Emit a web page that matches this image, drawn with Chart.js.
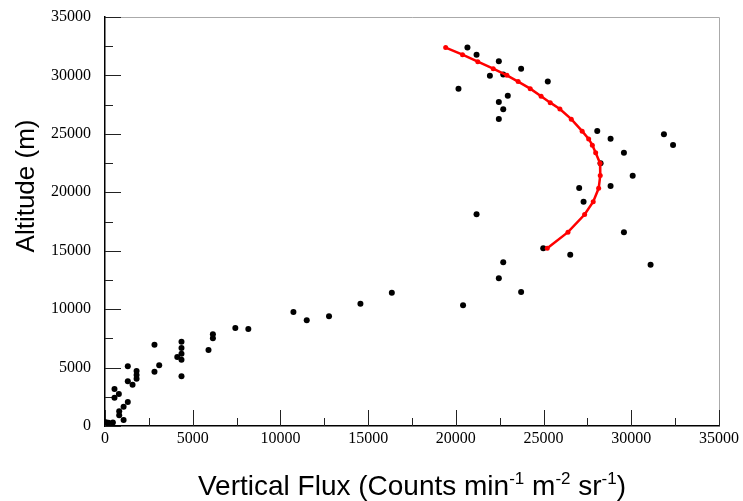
<!DOCTYPE html>
<html>
<head>
<meta charset="utf-8">
<script src="https://cdn.jsdelivr.net/npm/chart.js@4.4.1/dist/chart.umd.min.js"></script>
<style>
  html, body { margin: 0; padding: 0; background: #fff; }
  #wrap { width: 743px; height: 501px; position: relative; }
</style>
</head>
<body>
<div id="wrap"><canvas id="chart_flux"></canvas></div>
<script>
// measured flux vs altitude (black dots)
var fluxObs = [50, 200, 450, 540, 790, 540, 1300, 1300, 1570, 1800, 1800, 1800,
  1300, 1060, 810, 810, 1060, 2820, 2820, 3090, 4120, 4360, 4360, 4360, 4360, 4360,
  5900, 6150, 6150, 7430, 8170, 10740, 11500, 12770, 14560, 16350,
  20410, 21180, 22450, 22700, 23720, 24980, 26520, 29580, 31100,
  27030, 27280, 28820, 30080, 28250, 29580, 28820, 28060, 31860, 32380,
  20660, 21180, 22450, 23720, 21940, 22700, 25240, 20150, 22960, 22450, 22700, 22450];
var altObs = [320, 280, 310, 3170, 2740, 2420, 5110, 3830, 3540, 4710, 4360, 4050,
  2050, 1650, 1260, 920, 510, 6960, 4650, 5190, 5900, 7210, 6670, 6190, 5670, 4250,
  6500, 7850, 7500, 8390, 8300, 9760, 9040, 9390, 10470, 11410,
  10330, 18120, 12640, 14010, 11470, 15210, 14660, 16580, 13800,
  20370, 19190, 20540, 21420, 22480, 23390, 24590, 25240, 24960, 24050,
  32400, 31780, 31210, 30580, 29980, 30090, 29470, 28870, 28260, 27730, 27100, 26270];

// fitted curve (red)
var fluxFit = [19420, 20380, 21250, 22130, 22910, 23550, 24240, 24860, 25380, 25930,
  26580, 27200, 27570, 27780, 27970, 28220, 28230, 28140, 27830, 27340, 26390, 25210];
var altFit = [32380, 31780, 31180, 30580, 30010, 29470, 28870, 28210, 27670, 27130,
  26260, 25230, 24570, 24030, 23390, 22480, 21430, 20340, 19200, 18100, 16590, 15210];

var xTicks = [0, 5000, 10000, 15000, 20000, 25000, 30000, 35000];
var yTicks = [0, 5000, 10000, 15000, 20000, 25000, 30000, 35000];
var minorStep = 2500;

function toPoints(xs, ys) {
  return xs.map(function (v, i) { return { x: v, y: ys[i] }; });
}
function plain(v) { return String(v); }

var chart_flux = new Chart(document.getElementById('chart_flux'), {
  type: 'scatter',
  data: {
    datasets: [
      {
        label: 'fit',
        data: toPoints(fluxFit, altFit),
        showLine: true,
        borderColor: '#ff0000',
        backgroundColor: '#ff0000',
        borderWidth: 2.5,
        pointRadius: 2.5,
        pointBorderWidth: 0
      },
      {
        label: 'measured',
        data: toPoints(fluxObs, altObs),
        borderColor: '#000',
        backgroundColor: '#000',
        pointRadius: 3,
        pointBorderWidth: 0
      }
    ]
  },
  options: {
    animation: false,
    responsive: true,
    maintainAspectRatio: false,
    layout: { padding: { top: 17, right: 24, left: 0, bottom: 0 } },
    plugins: {
      legend: { display: false },
      tooltip: { enabled: false },
      title: { display: false }
    },
    scales: {
      x: {
        type: 'linear',
        min: 0,
        max: 35000,
        afterBuildTicks: function (s) { s.ticks = xTicks.map(function (v) { return { value: v }; }); },
        ticks: {
          font: { family: 'Liberation Serif', size: 16 },
          color: '#000',
          padding: 3,
          maxRotation: 0,
          callback: plain
        },
        grid: { display: false, drawTicks: false },
        border: { display: true, color: '#000', width: 1.5 },
        afterFit: function (s) { s.height = 75; }
      },
      y: {
        type: 'linear',
        min: 0,
        max: 35000,
        afterBuildTicks: function (s) { s.ticks = yTicks.map(function (v) { return { value: v }; }); },
        ticks: {
          font: { family: 'Liberation Serif', size: 16 },
          color: '#000',
          padding: 14,
          callback: plain
        },
        grid: { display: false, drawTicks: false },
        border: { display: true, color: '#000', width: 1.5 },
        afterFit: function (s) { s.width = 105; s.paddingTop = 0; s.paddingBottom = 0; }
      }
    }
  },
  plugins: [{
    id: 'whiteBg',
    beforeDraw: function (chart) {
      var ctx = chart.ctx;
      ctx.save();
      ctx.fillStyle = 'white';
      ctx.fillRect(0, 0, chart.width, chart.height);
      ctx.restore();
    }
  }, {
    id: 'frameAndTitles',
    beforeDatasetsDraw: function (chart) {
      var ctx = chart.ctx, a = chart.chartArea;
      var sx = chart.scales.x, sy = chart.scales.y;
      ctx.save();
      // light frame on top and right
      ctx.strokeStyle = '#aaa';
      ctx.lineWidth = 1;
      ctx.beginPath();
      ctx.moveTo(a.left, a.top + 0.5);
      ctx.lineTo(a.right + 0.5, a.top + 0.5);
      ctx.lineTo(a.right + 0.5, a.bottom);
      ctx.stroke();
      // inward ticks
      ctx.strokeStyle = '#222';
      ctx.beginPath();
      for (var v = 0; v <= 35000; v += minorStep) {
        var len = v % 5000 === 0 ? 16 : 8;
        var px = Math.round(sx.getPixelForValue(v)) + 0.5;
        ctx.moveTo(px, a.bottom);
        ctx.lineTo(px, a.bottom - len);
        var py = Math.round(sy.getPixelForValue(v)) + 0.5;
        ctx.moveTo(a.left, py);
        ctx.lineTo(a.left + len, py);
      }
      ctx.stroke();
      ctx.restore();
    },
    afterDraw: function (chart) {
      var ctx = chart.ctx, a = chart.chartArea;
      ctx.save();
      ctx.fillStyle = '#000';
      // x title with superscripts
      var big = '28px "Liberation Sans"', small = '17px "Liberation Sans"';
      var parts = [
        ['Vertical Flux (Counts min', big, 0], ['-1', small, -11],
        [' m', big, 0], ['-2', small, -11],
        [' sr', big, 0], ['-1', small, -11],
        [')', big, 0]
      ];
      var total = 0;
      parts.forEach(function (p) { ctx.font = p[1]; total += ctx.measureText(p[0]).width; });
      var x = (a.left + a.right) / 2 - total / 2, base = 495;
      ctx.textBaseline = 'alphabetic';
      ctx.textAlign = 'left';
      parts.forEach(function (p) {
        ctx.font = p[1];
        ctx.fillText(p[0], x, base + p[2]);
        x += ctx.measureText(p[0]).width;
      });
      // y title
      ctx.font = '26px "Liberation Sans"';
      ctx.translate(34, 186);
      ctx.rotate(-Math.PI / 2);
      ctx.textAlign = 'center';
      ctx.fillText('Altitude (m)', 0, 0);
      ctx.restore();
    }
  }]
});
</script>
</body>
</html>
